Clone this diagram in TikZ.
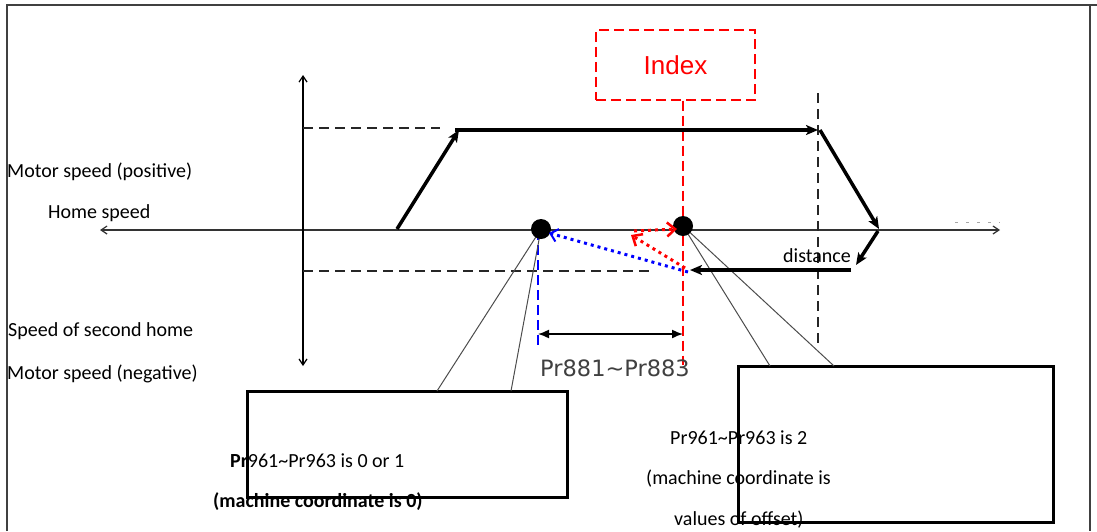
\documentclass[tikz,border=0pt]{standalone}
\usepackage{fontspec}
\setmainfont{Carlito}
\newfontfamily\digitfont{DejaVu Sans}
\newfontfamily\idxfont{Liberation Sans}
\usetikzlibrary{arrows.meta}
\begin{document}
\begin{tikzpicture}[x=1pt,y=-1pt,
  frame/.style={line width=2pt,draw=black!75},
  axis/.style={line width=1.2pt,draw=black!80,{Straight Barb[length=6pt,width=8pt]}-{Straight Barb[length=6pt,width=8pt]}},
  vaxis/.style={line width=1.2pt,draw=black,{Straight Barb[length=6pt,width=8pt]}-{Straight Barb[length=6pt,width=8pt]}},
  guide/.style={line width=1.2pt,draw=black!85,dash pattern=on 10pt off 6pt},
  prof/.style={line width=3.5pt,draw=black,-{Stealth[length=12pt,width=10pt,inset=3pt]}},
  dot/.style={circle,fill=black,minimum size=20pt,inner sep=0pt},
  lead/.style={line width=1pt,draw=black!70},
  infobox/.style={draw=black,line width=3pt,inner sep=0pt},
  indexbox/.style={draw=red,dashed,dash pattern=on 10pt off 5pt,line width=1.2pt,minimum width=159pt,minimum height=70pt,text=red,font=\idxfont\fontsize{26}{30}\selectfont},
  lbl/.style={font=\fontsize{20}{24}\selectfont,inner sep=0pt,anchor=west},
  bdot/.style={draw=blue,line width=3pt,dash pattern=on 3pt off 4pt,-{Straight Barb[length=7pt,width=13pt,line width=2pt]}},
  rdot/.style={draw=red,line width=3pt,dash pattern=on 3pt off 4pt,-{Straight Barb[length=8pt,width=14pt,line width=2.5pt]}}
]
\useasboundingbox (0,0) rectangle (1097,531);
% frame
\coordinate (fbl) at (7,531);
\coordinate (ftl) at (7,5);
\coordinate (ftr) at (1097,5);
\coordinate (frt) at (1090,5);
\coordinate (frb) at (1090,531);
\draw[frame] (fbl) -- (ftl) -- (ftr);
\draw[frame] (frt) -- (frb);

% axes
\coordinate (xl) at (100,230);
\coordinate (xr) at (1000,230);
\draw[axis] (xl) -- (xr);
\coordinate (yt) at (303,75);
\coordinate (yb) at (303,366);
\draw[vaxis] (yb) -- (yt);

% guides
\coordinate (g1a) at (303,128);
\coordinate (g1b) at (440,128);
\draw[guide] (g1a) -- (g1b);
\coordinate (g2a) at (303,271);
\coordinate (g2b) at (652,271);
\draw[guide] (g2a) -- (g2b);
\coordinate (g3a) at (818,93);
\coordinate (g3b) at (818,345);
\draw[guide] (g3a) -- (g3b);
\coordinate (gr1) at (955,222);
\coordinate (gr2) at (1000,222);
\draw[black!35,line width=0.8pt,dash pattern=on 3pt off 8pt] (gr1) -- (gr2);

% index box and markers
\node[indexbox] (ix) at (675.5,65) {\raisebox{-3pt}{Index}};
\coordinate (rv) at (683,365);
\draw[red,line width=1.2pt,dash pattern=on 10pt off 5pt] (ix.south -| rv) -- (rv);
\coordinate (bv1) at (538,230);
\coordinate (bv2) at (538,345);
\draw[blue,line width=1.2pt,dash pattern=on 10pt off 5pt] (bv1) -- (bv2);

% boxes
\node[infobox,minimum width=320pt,minimum height=106pt] (b1) at (407,444.5) {};
\node[infobox,minimum width=315pt,minimum height=156pt] (b2) at (896,444.5) {};

% dots and leads
\coordinate (dc1) at (541,229);
\coordinate (dc2) at (683,226);
\coordinate (l1a) at (437,391);
\coordinate (l1b) at (511,391);
\coordinate (l2a) at (770,366);
\coordinate (l2b) at (834,366);
\draw[lead] (dc1) -- (l1a);
\draw[lead] (dc1) -- (l1b);
\draw[lead] (dc2) -- (l2a);
\draw[lead] (dc2) -- (l2b);
\node[dot] (d1) at (dc1) {};
\node[dot] (d2) at (dc2) {};

% speed profile
\coordinate (p0) at (397,229);
\coordinate (p1) at (459,130);
\coordinate (p1b) at (455,130);
\coordinate (p2) at (818,130);
\coordinate (p2b) at (820,130);
\coordinate (p3) at (879,229);
\coordinate (p3b) at (878,231);
\coordinate (p4) at (856,265);
\coordinate (p5) at (851,270);
\coordinate (p6) at (690,270);
\draw[prof] (p0) -- (p1);
\draw[prof] (p1b) -- (p2);
\draw[prof] (p2b) -- (p3);
\draw[prof] (p3b) -- (p4);
\draw[prof] (p5) -- (p6);

% dotted returns
\coordinate (q0) at (688,272);
\coordinate (q1) at (549,233);
\draw[bdot] (q0) -- (q1);
\coordinate (r0) at (685,268);
\coordinate (r1) at (631,235);
\draw[rdot] (r0) -- (r1);
\coordinate (r2) at (634,231);
\coordinate (r3) at (677,229);
\draw[rdot] (r2) -- (r3);

% offset dimension
\coordinate (m1) at (538,334);
\coordinate (m2) at (683,334);
\draw[line width=1.5pt,{Latex[length=11pt,width=9pt]}-{Latex[length=11pt,width=9pt]}] (m1) -- (m2);
\node[font=\digitfont\fontsize{22.5}{26}\selectfont,text=black!75,inner sep=0pt] (pr) at (615,368) {Pr881\char"007E Pr883};

% labels
\node[lbl] (t1) at (7,172) {Motor speed (positive)};
\node[lbl] (t2) at (48,213) {Home speed};
\node[lbl] (t3) at (8,331) {Speed of second home};
\node[lbl] (t4) at (7,374) {Motor speed (negative)};
\node[lbl] (t5) at (783,256) {distance};
\node[lbl] (t6) at (230,461) {\textbf{Pr}961\char"007E Pr963 is 0 or 1};
\node[lbl] (t7) at (213,502) {\textbf{(machine coordinate is 0)}};
\node[lbl] (t8) at (670,438) {Pr961\char"007E Pr963 is 2};
\node[lbl] (t9) at (646,479) {(machine coordinate is};
\node[lbl] (t10) at (674,520) {values of offset)};
\end{tikzpicture}
\end{document}
